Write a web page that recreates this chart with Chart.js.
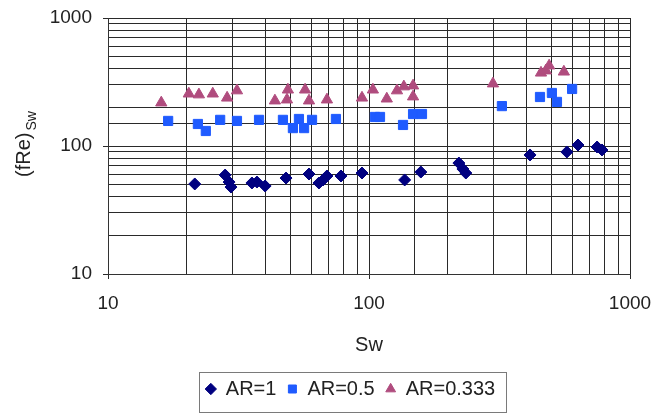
<!DOCTYPE html>
<html>
<head>
<meta charset="utf-8">
<script src="https://cdn.jsdelivr.net/npm/chart.js@4.4.1/dist/chart.umd.min.js"></script>
<style>
  html, body { margin: 0; padding: 0; background: #fff; }
  #wrap { width: 652px; height: 413px; }
</style>
</head>
<body>
<div id="wrap"><canvas id="chart" width="652" height="413"></canvas></div>
<script>
// friction factor * Re against Sw, one series per aspect ratio

const seriesNames = ['AR=1', 'AR=0.5', 'AR=0.333']

const ar1Sw  = [21.5, 28.1, 29.1, 29.6, 35.6, 37.2, 40.0, 48.1, 58.9, 64.3, 66.7, 69.0, 78.1, 94, 137, 158, 221, 229, 235, 414, 573, 632, 748, 781]
const ar1fRe = [50.5, 59.3, 52.3, 47.8, 51.4, 52.3, 48.7, 56.2, 60.4, 51.4, 54.3, 58.3, 58.3, 61.5, 54.3, 62.6, 73.6, 66.1, 61.5, 85.1, 89.8, 101.8, 98.2, 93.1]

const ar05Sw  = [17.0, 22.1, 23.7, 26.9, 31.2, 37.9, 46.8, 51.1, 53.9, 56.4, 60.5, 74.7, 105.4, 110.2, 135, 147.5, 159.6, 323, 452, 502, 525, 600]
const ar05fRe = [157, 148.6, 131, 160, 157, 160, 160, 138, 162.6, 138, 160, 162.6, 168.6, 168.6, 146, 177.8, 177.8, 205, 241.5, 259.5, 221, 279]

const ar033Sw  = [16.0, 20.4, 22.3, 25.2, 28.6, 31.2, 43.6, 48.5, 48.9, 56.9, 58.9, 69, 94, 103.5, 117, 128, 136, 147.5, 147.5, 298.5, 456, 476, 490, 558]
const ar033fRe = [218, 256, 252, 256, 238, 271, 226, 230, 275, 275, 226, 230, 238, 275, 234, 271, 291, 296, 243, 307, 373, 388, 424, 380]

const majorTicks = [10, 100, 1000]

const X_TITLE = 'Sw'
const Y_TITLE = '(fRe)'
const Y_TITLE_SUB = 'Sw'

const FONT = '"Liberation Sans", Arial, Helvetica, sans-serif'
const TEXT = '#222'
const GRID = '#2a2a2a'

const pairs = (xs, ys) => xs.map((x, i) => ({ x, y: ys[i] }))
const isMajor = v => majorTicks.includes(v)

Chart.defaults.font.family = FONT
Chart.defaults.color = TEXT

// axis titles and the framed legend
const framePlugin = {
  id: 'frame',
  afterDraw(chart) {
    const { ctx, chartArea, legend } = chart
    ctx.save()
    ctx.fillStyle = TEXT

    ctx.font = `20px ${FONT}`
    ctx.textAlign = 'center'
    ctx.textBaseline = 'middle'
    ctx.fillText(X_TITLE, (chartArea.left + chartArea.right) / 2, chartArea.bottom + 71)

    // vertical title with subscript
    ctx.translate(23, (chartArea.top + chartArea.bottom) / 2 - 2)
    ctx.rotate(-Math.PI / 2)
    ctx.font = `20px ${FONT}`
    const wMain = ctx.measureText(Y_TITLE).width
    ctx.font = `14px ${FONT}`
    const wSub = ctx.measureText(Y_TITLE_SUB).width
    const start = -(wMain + 2 + wSub) / 2
    ctx.textAlign = 'left'
    ctx.textBaseline = 'alphabetic'
    ctx.font = `20px ${FONT}`
    ctx.fillText(Y_TITLE, start, 7)
    ctx.font = `14px ${FONT}`
    ctx.fillText(Y_TITLE_SUB, start + wMain + 2, 13)
    ctx.setTransform(1, 0, 0, 1, 0, 0)

    const boxes = legend.legendHitBoxes
    if (boxes && boxes.length) {
      const l = Math.min(...boxes.map(b => b.left)) - 7
      const r = Math.max(...boxes.map(b => b.left + b.width)) + 11
      const t = boxes[0].top - 7
      const b = boxes[0].top + boxes[0].height + 13
      ctx.strokeStyle = '#7a7a7a'
      ctx.lineWidth = 1
      ctx.strokeRect(Math.round(l) + 0.5, Math.round(t) + 0.5, Math.round(r - l), Math.round(b - t))
    }
    ctx.restore()
  }
}

const tickLabel = v => isMajor(v) ? String(v) : ''
const tickMarkColor = c => (c.tick && isMajor(c.tick.value)) ? GRID : 'transparent'

new Chart(document.getElementById('chart'), {
  type: 'scatter',
  data: {
    datasets: [
      {
        label: seriesNames[0],
        data: pairs(ar1Sw, ar1fRe),
        pointStyle: 'rectRot',
        pointRadius: 6,
        backgroundColor: '#000080',
        borderColor: '#000080',
        borderWidth: 1
      },
      {
        label: seriesNames[1],
        data: pairs(ar05Sw, ar05fRe),
        pointStyle: 'rect',
        pointRadius: 6.5,
        backgroundColor: '#1f5bff',
        borderColor: '#1f5bff',
        borderWidth: 1
      },
      {
        label: seriesNames[2],
        data: pairs(ar033Sw, ar033fRe),
        pointStyle: 'triangle',
        pointRadius: 6.5,
        backgroundColor: '#b04c7e',
        borderColor: '#b04c7e',
        borderWidth: 1
      }
    ]
  },
  options: {
    responsive: false,
    animation: false,
    devicePixelRatio: 1,
    layout: { padding: { left: 49, right: 0, top: 18, bottom: 4 } },
    plugins: {
      tooltip: { enabled: false },
      legend: {
        position: 'bottom',
        labels: {
          usePointStyle: true,
          boxWidth: 10,
          boxHeight: 8,
          padding: 11,
          color: TEXT,
          font: { size: 20 }
        }
      }
    },
    scales: {
      x: {
        type: 'logarithmic',
        min: 10,
        max: 1000,
        grid: { color: GRID, lineWidth: 1, tickLength: 5, tickColor: tickMarkColor },
        border: { color: '#333', width: 1 },
        ticks: {
          autoSkip: false,
          maxRotation: 0,
          padding: 13,
          font: { size: 19 },
          color: TEXT,
          callback: tickLabel
        },
        afterFit(scale) {
          scale.height = 94
          scale.paddingLeft = 0
          scale.paddingRight = 0
        }
      },
      y: {
        type: 'logarithmic',
        min: 10,
        max: 1000,
        grid: { color: GRID, lineWidth: 1, tickLength: 5, tickColor: tickMarkColor },
        border: { color: '#333', width: 1 },
        ticks: {
          autoSkip: false,
          padding: 11,
          font: { size: 19 },
          color: TEXT,
          callback: tickLabel
        },
        afterFit(scale) {
          scale.width = 59
          scale.paddingTop = 0
          scale.paddingBottom = 0
        }
      },
      // empty right-hand axis that only reserves the margin beside the plot
      spacer: {
        type: 'linear',
        position: 'right',
        grid: { display: false },
        border: { display: false },
        ticks: { display: false },
        afterFit(scale) {
          scale.width = 22
        }
      }
    }
  },
  plugins: [framePlugin]
})
</script>
</body>
</html>
